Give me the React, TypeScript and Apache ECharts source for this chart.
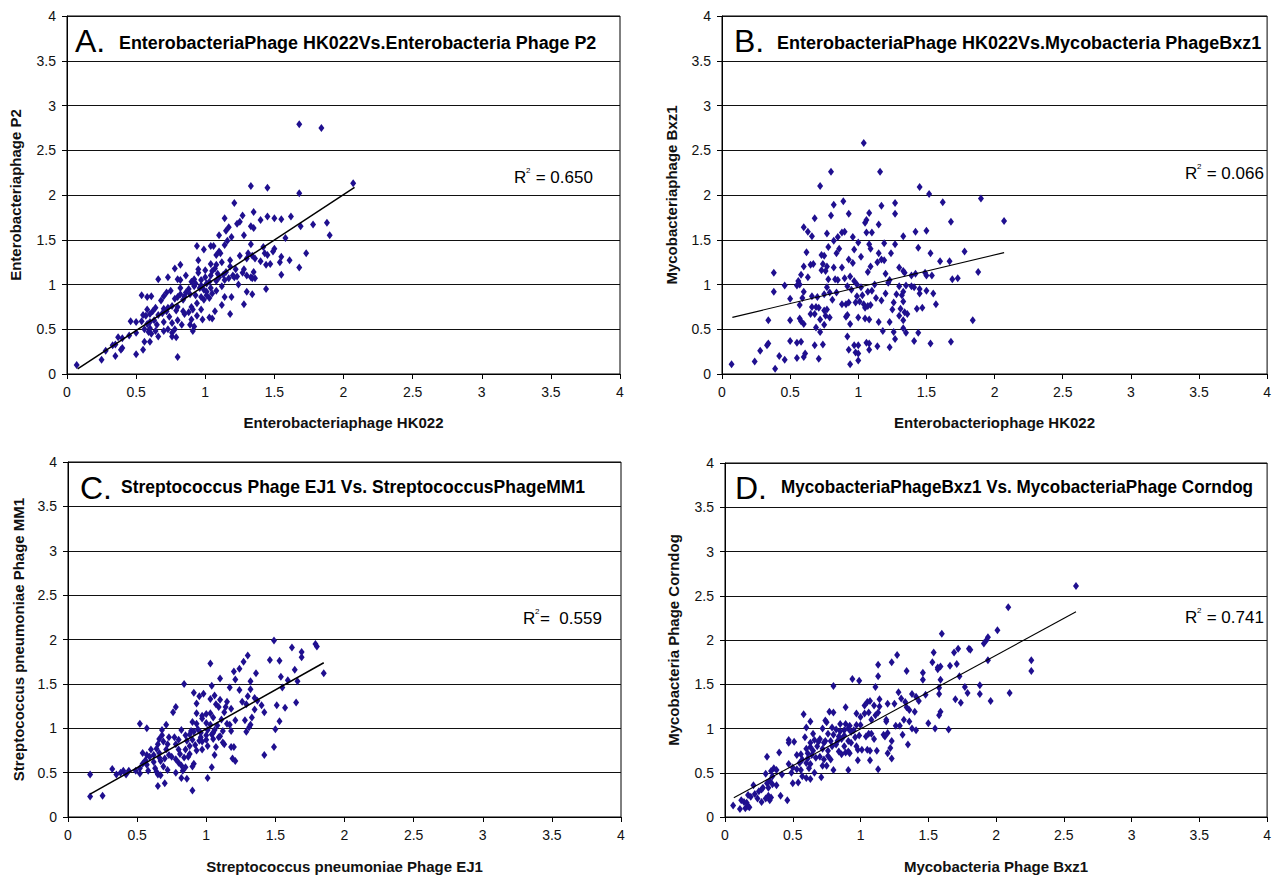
import React, { useEffect, useRef } from "react";
import * as echarts from "echarts";

const FONT = "'Liberation Sans', Arial, sans-serif";
const DOT = "#1f0f8f";

const tickValues = [0, 0.5, 1, 1.5, 2, 2.5, 3, 3.5, 4];

const panelTitles = [
  "EnterobacteriaPhage HK022Vs.Enterobacteria Phage P2",
  "EnterobacteriaPhage HK022Vs.Mycobacteria PhageBxz1",
  "Streptococcus Phage EJ1 Vs. StreptococcusPhageMM1",
  "MycobacteriaPhageBxz1 Vs. MycobacteriaPhage Corndog",
];
const panelLetters = ["A.", "B.", "C.", "D."];
const xNames = [
  "Enterobacteriaphage HK022",
  "Enterobacteriophage HK022",
  "Streptococcus pneumoniae Phage EJ1",
  "Mycobacteria Phage Bxz1",
];
const yNames = [
  "Enterobacteriaphage P2",
  "Mycobacteriaphage Bxz1",
  "Streptococcus pneumoniae Phage MM1",
  "Mycobacteria Phage Corndog",
];
const r2Values = [" = 0.650", " = 0.066", "=  0.559", " = 0.741"];

const trendA: [number, number][] = [[0.077, 0.056], [2.08, 2.086]];
const trendB: [number, number][] = [[0.076, 0.633], [2.07, 1.356]];
const trendC: [number, number][] = [[0.16, 0.258], [1.85, 1.738]];
const trendD: [number, number][] = [[0.065, 0.217], [2.59, 2.318]];

const pointsA: [number, number][] = [
  [1.68,2.79],[1.84,2.75],[2.07,2.13],[1.33,2.10],[1.45,2.08],[1.68,2.02],[1.21,1.91],
  [1.35,1.81],[1.27,1.77],[1.14,1.74],[1.45,1.76],[1.50,1.74],[1.55,1.73],[1.62,1.76],[1.25,1.70],[1.23,1.68],[1.40,1.72],[1.78,1.67],[1.88,1.69],[1.69,1.65],[1.33,1.65],[1.35,1.63],[1.17,1.64],[1.15,1.60],[1.28,1.55],[1.10,1.55],[1.19,1.53],[1.90,1.55],[1.58,1.52],[1.16,1.49],[1.14,1.44],[0.94,1.43],[1.04,1.43],[1.06,1.43],[1.33,1.45],[1.42,1.42],[1.50,1.40],[1.49,1.37],[0.99,1.39],[1.10,1.37],[1.08,1.33],[1.11,1.35],[1.31,1.35],[1.34,1.32],[1.45,1.33],[1.43,1.35],[1.73,1.35],[1.25,1.32],[1.30,1.29],[1.36,1.29],[1.55,1.31],[1.61,1.27],[1.54,1.25],[1.40,1.26],[0.95,1.27],[1.04,1.23],[1.08,1.22],[1.12,1.25],[1.18,1.20],[1.44,1.22],[1.47,1.23],[1.28,1.17],[1.68,1.19],[1.07,1.18],[0.82,1.22],[0.78,1.18],[0.95,1.17],[1.00,1.16],[1.05,1.15],[1.09,1.12],[1.13,1.11],[1.20,1.10],[1.23,1.09],[1.30,1.10],[1.33,1.08],[1.36,1.07],[1.55,1.11],[1.17,1.07],[1.14,1.05],[0.73,1.08],[0.66,1.06],[0.80,1.06],[0.82,1.05],[0.92,1.06],[0.90,1.03],[0.97,1.05],[1.01,1.01],[1.03,1.03],[1.08,1.04],[1.24,1.00],[0.92,0.98],[0.96,0.96],[0.99,0.94],[1.04,0.96],[0.88,0.95],[0.82,0.96],[0.75,0.93],[0.72,0.91],[1.30,0.92],[1.44,0.95],[1.34,0.89],[1.19,0.86],[1.14,0.86],[0.89,0.89],[0.93,0.88],[1.01,0.88],[1.05,0.90],[0.97,0.86],[0.80,0.86],[0.85,0.87],[0.61,0.87],[0.58,0.86],[0.54,0.88],[0.70,0.87],[0.68,0.82],[0.78,0.84],[0.84,0.83],[0.99,0.83],[1.03,0.85],[0.94,0.79],[0.90,0.75],[0.80,0.75],[0.73,0.74],[0.76,0.76],[0.70,0.73],[0.64,0.74],[0.84,0.70],[0.88,0.69],[0.91,0.72],[0.97,0.72],[0.79,0.71],[0.72,0.70],[0.69,0.68],[0.62,0.70],[0.58,0.72],[0.60,0.67],[0.55,0.66],[0.57,0.65],[0.66,0.66],[0.74,0.64],[0.85,0.67],[0.94,0.65],[1.18,0.67],[1.03,0.63],[1.05,0.62],[1.28,0.78],[1.12,0.77],[0.63,0.60],[0.60,0.58],[0.58,0.56],[0.54,0.59],[0.50,0.58],[0.46,0.59],[0.70,0.58],[0.76,0.57],[0.80,0.60],[0.89,0.55],[0.83,0.55],[0.65,0.55],[0.60,0.51],[0.56,0.50],[0.64,0.48],[0.70,0.48],[0.73,0.50],[0.76,0.46],[0.78,0.50],[0.76,0.42],[0.79,0.41],[0.66,0.42],[0.61,0.45],[0.59,0.47],[0.50,0.46],[0.45,0.43],[0.40,0.40],[0.37,0.41],[0.35,0.33],[0.40,0.29],[0.39,0.27],[0.28,0.26],[0.33,0.32],[0.56,0.36],[0.60,0.36],[0.50,0.22],[0.55,0.27],[0.35,0.20],[0.25,0.16],[0.80,0.19],[0.07,0.10],[0.91,0.48],[0.92,0.53],[0.90,0.61],[0.98,0.61],[1.07,0.70],[0.93,1.01],[0.86,1.10],[1.04,1.10],[1.10,1.08],[1.15,1.14],[1.21,1.08],[1.00,1.08],[0.95,1.13],[1.12,0.98],[1.22,1.17],[1.34,1.07],[1.35,1.14],[1.27,1.13],[1.18,1.27],[1.01,0.92],[1.08,0.93],[0.97,0.99],[0.86,0.91],[0.82,0.89],
];

const pointsB: [number, number][] = [
  [1.04,2.58],[0.80,2.26],[1.16,2.26],[0.72,2.10],[1.45,2.09],[1.52,2.01],[0.89,1.93],[1.27,1.91],[1.62,1.92],[1.90,1.96],[0.82,1.89],[1.17,1.88],[1.08,1.80],[0.93,1.79],[0.68,1.74],[0.80,1.77],[1.27,1.79],[1.06,1.72],[1.05,1.69],[1.15,1.67],[1.68,1.70],[2.07,1.71],[0.60,1.64],[0.63,1.59],[0.66,1.54],[0.77,1.57],[0.88,1.58],[0.90,1.59],[0.96,1.53],[1.06,1.58],[1.10,1.58],[1.33,1.54],[1.42,1.59],[1.50,1.60],[0.85,1.53],[0.82,1.49],[1.00,1.47],[1.08,1.45],[1.19,1.46],[1.27,1.45],[1.24,1.35],[1.15,1.35],[0.62,1.36],[0.78,1.42],[0.86,1.40],[0.97,1.39],[1.02,1.31],[1.09,1.40],[1.44,1.41],[1.53,1.35],[1.78,1.37],[0.73,1.33],[0.75,1.32],[0.84,1.35],[1.17,1.28],[1.19,1.27],[1.14,1.25],[0.60,1.20],[0.65,1.22],[0.67,1.23],[0.74,1.23],[0.77,1.20],[0.82,1.19],[0.88,1.19],[0.93,1.28],[0.96,1.24],[1.30,1.19],[1.33,1.15],[1.34,1.13],[1.60,1.26],[1.67,1.26],[1.09,1.20],[1.07,1.14],[0.58,1.11],[0.63,1.08],[0.38,1.13],[0.56,1.04],[0.73,1.16],[0.76,1.15],[0.78,1.06],[0.83,1.06],[0.85,1.05],[0.90,1.07],[0.94,1.09],[0.97,1.04],[0.99,1.00],[1.20,1.12],[1.23,1.05],[1.39,1.10],[1.42,1.12],[1.49,1.13],[1.54,1.10],[1.69,1.06],[1.73,1.07],[1.88,1.14],[0.46,0.99],[0.55,0.99],[0.57,1.00],[0.77,0.97],[0.92,0.98],[0.95,0.94],[1.02,0.97],[1.10,0.93],[1.22,1.02],[1.30,0.98],[1.35,0.99],[1.39,0.98],[1.41,0.97],[1.45,0.95],[1.50,0.93],[1.55,0.90],[0.38,0.92],[0.60,0.92],[0.75,0.89],[0.79,0.91],[0.84,0.91],[0.99,0.87],[1.03,0.88],[1.07,0.92],[1.13,0.85],[1.20,0.90],[1.28,0.89],[1.32,0.88],[1.33,0.92],[1.45,0.90],[0.50,0.84],[0.59,0.85],[0.66,0.87],[0.70,0.86],[0.81,0.83],[0.88,0.78],[0.91,0.78],[0.93,0.80],[0.98,0.80],[1.01,0.81],[1.04,0.78],[1.07,0.76],[1.09,0.77],[1.17,0.82],[1.26,0.80],[1.33,0.81],[1.57,0.78],[0.57,0.77],[0.66,0.75],[0.69,0.75],[0.71,0.74],[0.75,0.71],[0.77,0.72],[1.05,0.74],[1.25,0.72],[1.31,0.73],[1.34,0.69],[1.43,0.73],[1.47,0.74],[0.34,0.60],[0.50,0.60],[0.57,0.62],[0.58,0.59],[0.60,0.56],[0.65,0.67],[0.68,0.67],[0.72,0.61],[0.76,0.65],[0.79,0.63],[0.91,0.64],[0.92,0.66],[1.00,0.63],[1.05,0.62],[1.08,0.61],[1.15,0.58],[1.23,0.58],[1.30,0.65],[1.33,0.60],[1.36,0.67],[1.84,0.60],[0.69,0.52],[0.72,0.47],[0.75,0.55],[0.94,0.56],[1.26,0.47],[1.33,0.51],[1.35,0.46],[1.44,0.46],[1.18,0.48],[0.92,0.42],[0.50,0.37],[0.58,0.36],[0.34,0.34],[0.33,0.32],[0.55,0.35],[0.68,0.32],[0.74,0.33],[0.97,0.32],[1.00,0.32],[1.06,0.35],[1.08,0.34],[1.14,0.31],[1.23,0.30],[1.27,0.39],[1.41,0.37],[1.53,0.34],[1.68,0.36],[0.28,0.26],[0.42,0.20],[0.46,0.16],[0.55,0.18],[0.60,0.19],[0.61,0.23],[0.71,0.17],[0.93,0.27],[0.98,0.24],[1.00,0.23],[1.08,0.27],[1.00,0.15],[0.94,0.11],[0.24,0.14],[0.07,0.11],[0.39,0.06],[1.50,1.10],[1.12,1.00],
];

const pointsC: [number, number][] = [
  [1.49,1.99],[1.79,1.95],[1.80,1.92],[1.62,1.91],[1.69,1.86],[1.30,1.82],[1.69,1.80],[1.53,1.76],[1.46,1.77],[1.27,1.75],[1.03,1.73],[1.24,1.67],[1.64,1.66],[1.20,1.64],[1.36,1.62],[1.85,1.62],[1.54,1.58],[1.10,1.56],[1.21,1.55],[1.32,1.53],[1.59,1.54],[1.66,1.53],[0.84,1.50],[1.04,1.48],[1.17,1.46],[1.24,1.43],[1.32,1.44],[1.55,1.46],[0.91,1.40],[0.95,1.36],[0.98,1.39],[1.06,1.37],[1.30,1.36],[1.35,1.34],[1.37,1.31],[1.03,1.33],[1.10,1.32],[1.15,1.30],[1.26,1.30],[1.29,1.27],[1.40,1.26],[1.51,1.26],[1.57,1.23],[1.65,1.29],[0.93,1.28],[1.07,1.27],[1.09,1.24],[1.14,1.24],[1.18,1.22],[0.78,1.24],[0.76,1.18],[0.93,1.17],[0.97,1.14],[1.00,1.16],[1.03,1.17],[1.13,1.18],[1.35,1.21],[1.42,1.18],[1.33,1.12],[0.97,1.11],[1.05,1.12],[1.11,1.10],[1.21,1.09],[1.28,1.09],[1.53,1.08],[0.52,1.05],[0.71,1.04],[0.90,1.07],[0.93,1.05],[1.00,1.06],[1.03,1.04],[1.08,1.03],[1.15,1.05],[1.17,1.04],[1.32,1.04],[1.31,1.01],[0.57,1.00],[0.68,0.98],[0.82,0.98],[0.89,0.97],[0.94,0.99],[1.01,0.98],[1.06,0.98],[1.12,0.97],[1.18,0.97],[1.29,0.96],[1.50,0.99],[0.68,0.92],[0.73,0.90],[0.77,0.90],[0.85,0.92],[0.88,0.93],[0.96,0.90],[1.00,0.92],[1.04,0.93],[1.10,0.91],[0.66,0.88],[0.69,0.85],[0.80,0.87],[0.86,0.86],[0.90,0.87],[0.95,0.86],[0.97,0.85],[1.00,0.87],[1.05,0.88],[1.09,0.90],[0.65,0.82],[0.72,0.82],[0.78,0.82],[0.88,0.80],[0.92,0.81],[1.01,0.80],[1.07,0.79],[1.18,0.79],[1.20,0.79],[1.49,0.79],[0.60,0.76],[0.64,0.77],[0.71,0.76],[0.80,0.76],[0.85,0.76],[0.93,0.75],[0.97,0.76],[0.54,0.72],[0.57,0.70],[0.62,0.70],[0.66,0.72],[0.73,0.70],[0.81,0.71],[0.88,0.71],[1.06,0.70],[1.42,0.70],[0.59,0.68],[0.66,0.67],[0.70,0.66],[0.75,0.68],[0.78,0.65],[0.84,0.67],[0.87,0.68],[0.56,0.64],[0.62,0.62],[0.67,0.63],[0.80,0.61],[0.91,0.60],[1.19,0.66],[1.21,0.63],[0.54,0.60],[0.57,0.59],[0.63,0.55],[0.69,0.57],[0.82,0.58],[0.85,0.56],[0.90,0.57],[1.04,0.56],[0.52,0.55],[0.58,0.52],[0.64,0.51],[0.72,0.53],[0.78,0.50],[0.83,0.52],[0.49,0.52],[0.44,0.52],[0.40,0.52],[0.38,0.50],[0.32,0.54],[0.35,0.48],[0.42,0.48],[0.52,0.49],[0.65,0.48],[0.67,0.47],[0.82,0.44],[0.86,0.43],[1.01,0.44],[0.70,0.38],[0.65,0.35],[0.90,0.30],[0.16,0.48],[0.16,0.23],[0.25,0.24],[1.12,0.84],[1.13,0.82],[0.96,0.95],[0.91,0.96],[1.05,0.95],
];

const pointsD: [number, number][] = [
  [2.59,2.61],[2.09,2.37],[2.01,2.11],[1.60,2.07],[1.94,2.03],[1.93,2.00],[1.91,1.96],[1.80,1.90],[1.72,1.90],[1.81,1.89],[1.69,1.86],[1.54,1.86],[1.27,1.83],[1.71,1.73],[1.53,1.75],[1.23,1.75],[1.94,1.77],[2.26,1.77],[1.13,1.72],[1.66,1.71],[1.57,1.69],[1.59,1.70],[1.57,1.67],[1.34,1.65],[1.46,1.63],[2.26,1.65],[1.13,1.59],[1.73,1.59],[0.94,1.56],[0.99,1.54],[1.59,1.55],[1.46,1.55],[0.80,1.48],[1.11,1.47],[1.88,1.49],[1.77,1.47],[1.58,1.46],[1.28,1.41],[1.38,1.39],[1.48,1.38],[1.58,1.39],[1.79,1.40],[1.88,1.39],[2.10,1.40],[1.41,1.36],[1.30,1.34],[1.14,1.33],[1.70,1.33],[1.74,1.29],[1.96,1.31],[1.05,1.30],[1.07,1.31],[1.20,1.28],[1.33,1.30],[1.25,1.28],[1.43,1.31],[1.03,1.26],[1.10,1.26],[1.14,1.25],[1.34,1.24],[1.36,1.21],[1.40,1.19],[0.89,1.24],[0.77,1.19],[0.80,1.18],[0.58,1.16],[0.97,1.17],[1.03,1.17],[1.06,1.18],[1.11,1.15],[1.13,1.18],[1.58,1.15],[1.59,1.19],[1.00,1.13],[1.08,1.10],[1.19,1.10],[1.32,1.10],[1.36,1.08],[1.50,1.06],[0.63,1.08],[0.74,1.09],[0.75,1.07],[0.85,1.05],[0.89,1.05],[0.92,1.03],[0.97,1.04],[1.00,1.04],[1.19,1.08],[1.26,1.03],[1.29,1.03],[1.38,1.00],[1.41,0.98],[1.55,1.00],[1.65,0.99],[0.60,1.01],[0.72,1.00],[0.79,1.01],[0.82,0.99],[0.85,0.97],[0.88,0.98],[0.91,1.00],[0.93,0.96],[0.95,0.98],[1.06,0.94],[1.08,0.94],[1.17,0.93],[1.20,0.95],[1.31,0.93],[0.65,0.94],[0.76,0.94],[0.80,0.93],[0.84,0.91],[0.88,0.92],[0.96,0.90],[0.99,0.92],[1.04,0.91],[1.18,0.91],[0.59,0.90],[0.66,0.87],[0.70,0.88],[0.74,0.86],[0.78,0.86],[0.83,0.86],[0.86,0.88],[0.91,0.86],[1.10,0.88],[0.47,0.87],[0.47,0.84],[0.51,0.85],[0.63,0.84],[0.69,0.85],[0.73,0.84],[0.93,0.84],[1.23,0.86],[1.35,0.82],[0.63,0.79],[0.68,0.80],[0.79,0.80],[0.82,0.82],[0.88,0.80],[0.97,0.80],[0.60,0.77],[0.65,0.75],[0.72,0.77],[0.76,0.75],[0.84,0.74],[0.89,0.73],[0.91,0.74],[0.98,0.76],[1.01,0.76],[1.05,0.76],[1.07,0.75],[1.12,0.75],[1.22,0.78],[1.20,0.72],[0.40,0.73],[0.53,0.70],[0.56,0.71],[0.61,0.72],[0.64,0.70],[0.70,0.68],[0.76,0.69],[0.86,0.71],[0.92,0.72],[0.31,0.68],[0.57,0.65],[0.61,0.66],[0.67,0.67],[0.73,0.65],[0.78,0.65],[0.98,0.64],[1.07,0.64],[1.23,0.66],[0.55,0.61],[0.60,0.61],[0.63,0.60],[0.72,0.58],[0.75,0.58],[0.47,0.60],[0.50,0.56],[0.53,0.54],[0.56,0.53],[0.62,0.55],[0.66,0.50],[0.80,0.53],[0.91,0.53],[1.13,0.54],[0.36,0.55],[0.34,0.52],[0.38,0.53],[0.30,0.49],[0.42,0.48],[0.49,0.50],[0.57,0.46],[0.60,0.44],[0.63,0.43],[0.71,0.45],[0.35,0.46],[0.33,0.41],[0.31,0.38],[0.35,0.37],[0.38,0.36],[0.50,0.38],[0.54,0.39],[0.21,0.36],[0.28,0.33],[0.32,0.33],[0.27,0.31],[0.25,0.29],[0.22,0.26],[0.17,0.25],[0.19,0.23],[0.32,0.24],[0.34,0.22],[0.30,0.21],[0.41,0.24],[0.24,0.21],[0.33,0.19],[0.27,0.17],[0.46,0.19],[0.12,0.19],[0.14,0.17],[0.16,0.16],[0.17,0.12],[0.15,0.10],[0.18,0.11],[0.11,0.09],[0.06,0.13],
];

const allPoints = [pointsA, pointsB, pointsC, pointsD];
const allTrends = [trendA, trendB, trendC, trendD];

// layout (pixels)
const grids = [
  { left: 67, top: 16, width: 553, height: 358 },
  { left: 722, top: 16, width: 551, height: 358 },
  { left: 68, top: 462, width: 553, height: 356 },
  { left: 725, top: 463, width: 550, height: 357 },
];
const yNameGaps = [44, 43, 42, 44];
const xNameGaps = [41, 41, 42, 42];
const trendWidths = [1.5, 1.1, 1.5, 1.1];
const letterPos = [[75, 41], [734, 41], [80, 488], [735, 488]];
const titlePos = [[119, 43], [777, 43], [121, 487], [781, 487]];
const titleScale = [0.995, 1.0, 0.973, 0.95];
const r2Pos = [[514, 177], [1185, 173], [523, 618], [1185, 617]];

export default function App() {
  const ref = useRef<HTMLDivElement>(null);
  useEffect(() => {
    if (!ref.current) return;
    const chart = echarts.init(ref.current, undefined, { renderer: "svg" });
    const gridOpts: any[] = [];
    const xAxes: any[] = [];
    const yAxes: any[] = [];
    const series: any[] = [];
    const graphics: any[] = [];
    for (let i = 0; i < 4; i++) {
      gridOpts.push({ ...grids[i], show: true, borderColor: "#000", borderWidth: 1, containLabel: false });
      xAxes.push({
        gridIndex: i, type: "value", min: tickValues[0], max: tickValues[tickValues.length - 1], interval: 0.5,
        axisLine: { show: true, onZero: false, lineStyle: { color: "#000", width: 1 } },
        axisTick: { show: true, inside: false, length: 5, lineStyle: { color: "#000" } },
        axisLabel: { fontSize: 14, color: "#111", margin: 11, fontFamily: FONT },
        splitLine: { show: false },
        name: xNames[i], nameLocation: "middle", nameGap: xNameGaps[i],
        nameTextStyle: { fontWeight: "bold", fontSize: 15, fontFamily: FONT, color: "#111" },
      });
      yAxes.push({
        gridIndex: i, type: "value", min: tickValues[0], max: tickValues[tickValues.length - 1], interval: 0.5,
        axisLine: { show: true, onZero: false, lineStyle: { color: "#000", width: 1 } },
        axisTick: { show: true, inside: false, length: 5, lineStyle: { color: "#000" } },
        axisLabel: { fontSize: 14, color: "#111", margin: 11, fontFamily: FONT },
        splitLine: { show: true, lineStyle: { color: "#111", width: 1 } },
        name: yNames[i], nameLocation: "middle", nameGap: yNameGaps[i],
        nameTextStyle: { fontWeight: "bold", fontSize: 15, fontFamily: FONT, color: "#111" },
      });
      series.push({
        type: "scatter", xAxisIndex: i, yAxisIndex: i, data: allPoints[i],
        symbol: "diamond", symbolSize: [6, 8],
        itemStyle: { color: DOT, opacity: 1 },
      });
      series.push({
        type: "line", xAxisIndex: i, yAxisIndex: i, data: allTrends[i],
        showSymbol: false, symbol: "none",
        lineStyle: { color: "#000", width: trendWidths[i] },
      });
      graphics.push({
        type: "text", x: letterPos[i][0], y: letterPos[i][1],
        style: { text: panelLetters[i], fontSize: 32, fontFamily: FONT, fill: "#000", align: "left", verticalAlign: "middle" },
      });
      graphics.push({
        type: "text", x: titlePos[i][0], y: titlePos[i][1], scaleX: titleScale[i],
        style: { text: panelTitles[i], fontSize: 18, fontWeight: "bold", fontFamily: FONT, fill: "#000", align: "left", verticalAlign: "middle" },
      });
      graphics.push({
        type: "text", x: r2Pos[i][0], y: r2Pos[i][1],
        style: { text: "R", fontSize: 17, fontFamily: FONT, fill: "#000", align: "left", verticalAlign: "middle" },
      });
      graphics.push({
        type: "text", x: r2Pos[i][0] + 12, y: r2Pos[i][1] - 7,
        style: { text: "2", fontSize: 8, fontFamily: FONT, fill: "#000", align: "left", verticalAlign: "middle" },
      });
      graphics.push({
        type: "text", x: r2Pos[i][0] + 17, y: r2Pos[i][1],
        style: { text: r2Values[i], fontSize: 17, fontFamily: FONT, fill: "#000", align: "left", verticalAlign: "middle" },
      });
    }
    chart.setOption({
      animation: false,
      backgroundColor: "#fff",
      grid: gridOpts,
      xAxis: xAxes,
      yAxis: yAxes,
      series,
      graphic: graphics,
    });
    return () => chart.dispose();
  }, []);
  return (
    <div
      ref={ref}
      style={{ position: "absolute", left: 0, top: 0, width: 1274, height: 875, background: "#fff" }}
    />
  );
}
